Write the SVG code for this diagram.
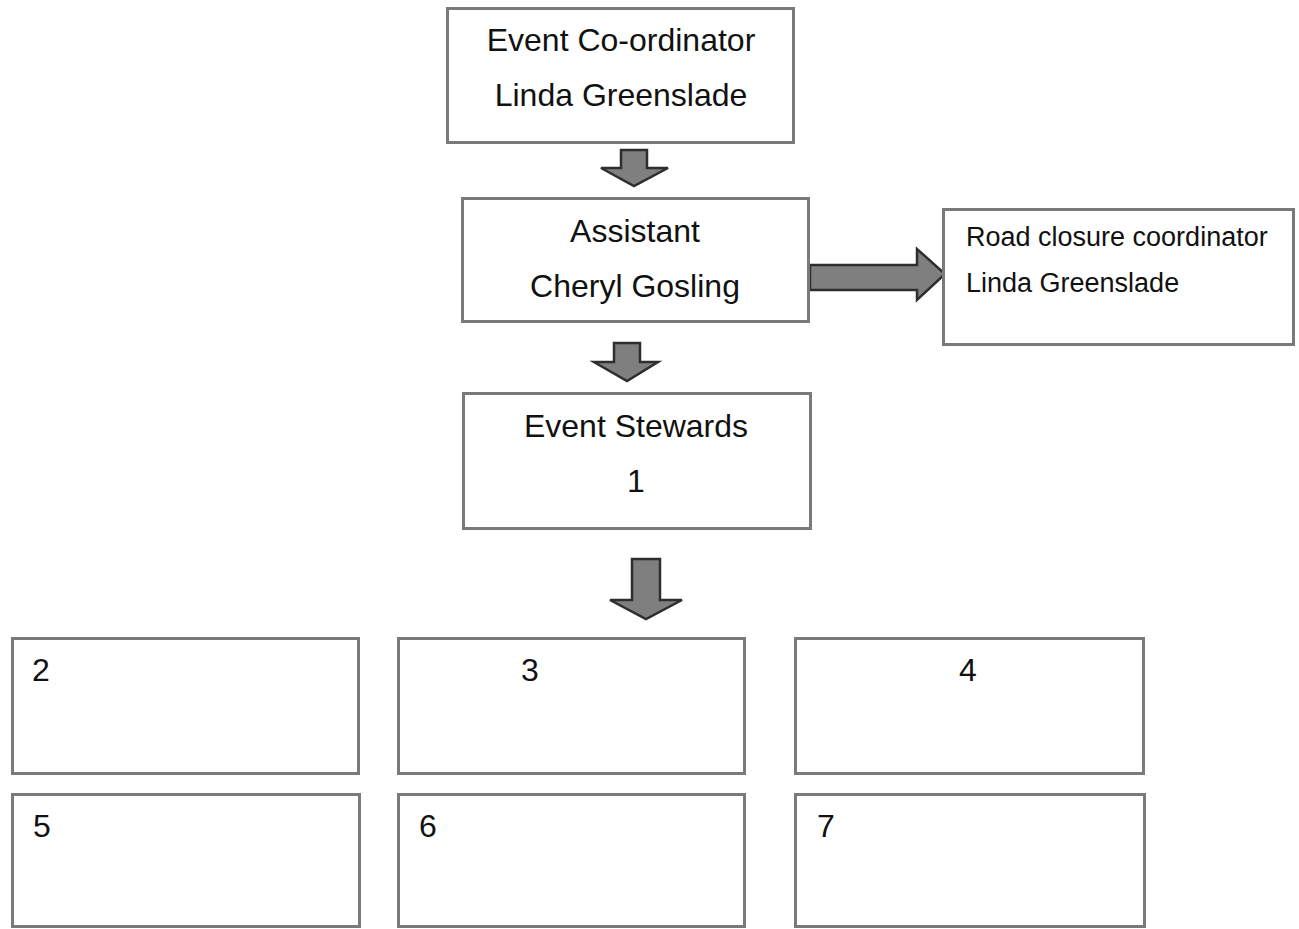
<svg xmlns="http://www.w3.org/2000/svg" width="1299" height="929" viewBox="0 0 1299 929">
<style>
.box{fill:#fff;stroke:#7a7a7a;stroke-width:3}
.t{font-family:"Liberation Sans",Arial,sans-serif;font-size:32px;fill:#111}
.s{font-family:"Liberation Sans",Arial,sans-serif;font-size:27px;fill:#111}
.c{text-anchor:middle}
.arr{fill:#7f7f7f;stroke:#2e2e2e;stroke-width:2.5;stroke-linejoin:miter}
</style>
<rect width="1299" height="929" fill="#fff"/>
<g id="connectors">
<polygon class="arr" points="621,150 647,150 647,168 668,168 634,186 601,168 621,168"/>
<polygon class="arr" points="614,343 640,343 640,362 658,362 627,381 594,362 614,362"/>
<polygon class="arr" points="632,559 660,559 660,600 682,600 646,619 610,600 632,600"/>
<polygon class="arr" points="810,265 917,265 917,249 945,274 917,300 917,290 810,290"/>
</g>
<g id="coordinator">
<rect class="box" x="447.5" y="8.5" width="346" height="134"/>
<text class="t c" x="621" y="51">Event Co-ordinator</text>
<text class="t c" x="621" y="106">Linda Greenslade</text>
</g>
<g id="assistant">
<rect class="box" x="462.5" y="198.5" width="346" height="123"/>
<text class="t c" x="635" y="242">Assistant</text>
<text class="t c" x="635" y="297">Cheryl Gosling</text>
</g>
<g id="road-closure">
<rect class="box" x="943.5" y="209.5" width="350" height="135"/>
<text class="s" x="966" y="246">Road closure coordinator</text>
<text class="s" x="966" y="292">Linda Greenslade</text>
</g>
<g id="stewards">
<rect class="box" x="463.5" y="393.5" width="347" height="135"/>
<text class="t c" x="636" y="437">Event Stewards</text>
<text class="t c" x="636" y="492">1</text>
</g>
<g id="s2"><rect class="box" x="12.5" y="638.5" width="346" height="135"/><text class="t" x="32" y="681">2</text></g>
<g id="s3"><rect class="box" x="398.5" y="638.5" width="346" height="135"/><text class="t" x="521" y="681">3</text></g>
<g id="s4"><rect class="box" x="795.5" y="638.5" width="348" height="135"/><text class="t" x="959" y="681">4</text></g>
<g id="s5"><rect class="box" x="12.5" y="794.5" width="347" height="132"/><text class="t" x="33" y="837">5</text></g>
<g id="s6"><rect class="box" x="398.5" y="794.5" width="346" height="132"/><text class="t" x="419" y="837">6</text></g>
<g id="s7"><rect class="box" x="795.5" y="794.5" width="349" height="132"/><text class="t" x="817" y="837">7</text></g>
</svg>
